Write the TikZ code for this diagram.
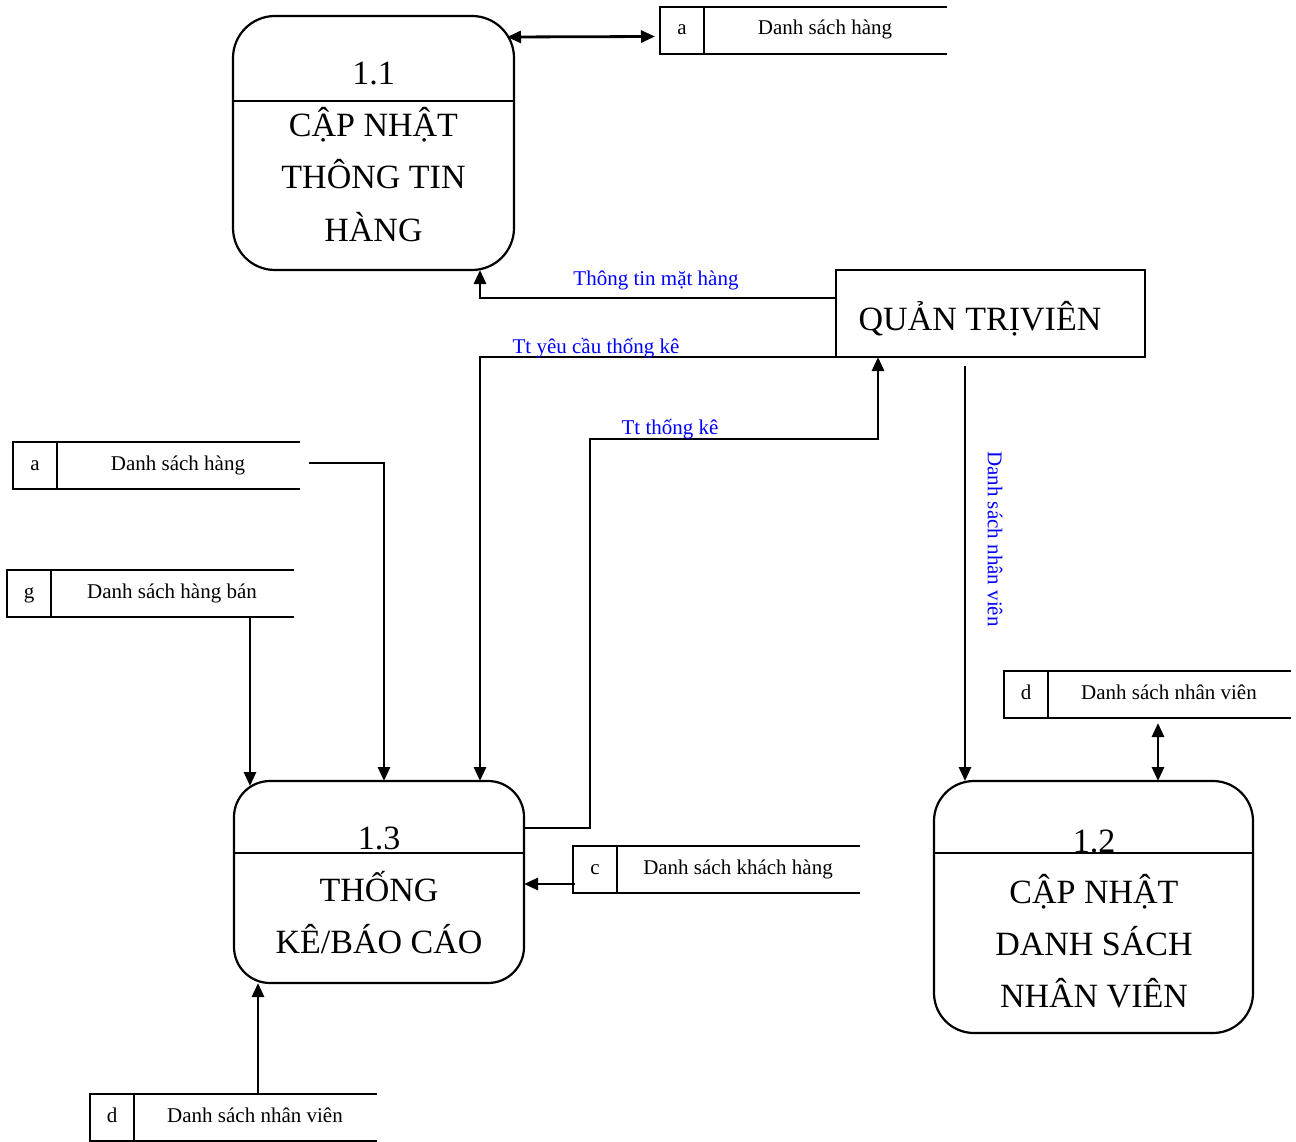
\documentclass[tikz,border=0pt]{standalone}
\usepackage{fontspec}
\setmainfont{Liberation Serif}
\usetikzlibrary{arrows.meta,calc}
\definecolor{flowblue}{RGB}{0,0,255}

\tikzset{
  proc/.style={draw, line width=2.2pt, inner sep=0pt, outer sep=0pt},
  storeframe/.style={minimum width=287pt, minimum height=47pt, inner sep=0pt, outer sep=0pt},
  storeline/.style={line width=2.2pt},
  storetext/.style={font=\fontsize{21}{24}\selectfont, anchor=base, inner sep=0pt},
  bigtext/.style={font=\fontsize{34}{40}\selectfont, anchor=base, inner sep=0pt},
  tip/.tip={Triangle[length=14pt,width=12pt]},
  flow/.style={line width=2.8pt, -tip},
  biflow/.style={line width=2.8pt, tip-tip},
  flowlabel/.style={text=flowblue, font=\fontsize{21}{24}\selectfont, anchor=base, inner sep=0pt},
}

% data store: name, left x, top y, letter, title
\newcommand{\dfdstore}[5]{%
  \node[storeframe] (#1) at (#2+143.5,#3+23.5) {};
  \draw[storeline] (#1.north east) -- (#1.north west) -- (#1.south west) -- (#1.south east);
  \draw[storeline] ([xshift=44pt]#1.north west) -- ([xshift=44pt]#1.south west);
  \node[storetext] at ([xshift=22pt,yshift=-4.5pt]#1.west) {#4};
  \node[storetext] at ([xshift=165pt,yshift=-4.5pt]#1.west) {#5};
}

\begin{document}
\begin{tikzpicture}[x=1pt,y=-1pt]
\useasboundingbox (0,0) rectangle (1296,1142);

% processes
\node[proc, rounded corners=42pt, minimum width=281pt, minimum height=254pt] (p11) at (373.5,143) {};
\draw[storeline] ([yshift=-85pt]p11.north west) -- ([yshift=-85pt]p11.north east);
\node[bigtext] at (373.5,85) {1.1};
\node[bigtext] at (373.5,137) {CẬP NHẬT};
\node[bigtext] at (373.5,189) {THÔNG TIN};
\node[bigtext] at (373.5,241) {HÀNG};

\node[proc, rounded corners=36pt, minimum width=290pt, minimum height=202pt] (p13) at (379,882) {};
\draw[storeline] ([yshift=-72pt]p13.north west) -- ([yshift=-72pt]p13.north east);
\node[bigtext] at (379,849) {1.3};
\node[bigtext] at (379,901) {THỐNG};
\node[bigtext] at (379,953) {KÊ/BÁO CÁO};

\node[proc, rounded corners=40pt, minimum width=319pt, minimum height=252pt] (p12) at (1093.5,907) {};
\draw[storeline] ([yshift=-72pt]p12.north west) -- ([yshift=-72pt]p12.north east);
\node[bigtext] at (1094,852) {1.2};
\node[bigtext] at (1094,903) {CẬP NHẬT};
\node[bigtext] at (1094,955) {DANH SÁCH};
\node[bigtext] at (1094,1007) {NHÂN VIÊN};

% external entity
\node[proc, minimum width=309pt, minimum height=87pt] (qtv) at (990.5,313.5) {};
\node[bigtext] at (980,330) {QUẢN TRỊVIÊN};

% data stores
\dfdstore{sa1}{660}{7}{a}{Danh sách hàng}
\dfdstore{sa2}{13}{442}{a}{Danh sách hàng}
\dfdstore{sg}{7}{570}{g}{Danh sách hàng bán}
\dfdstore{sc}{573}{846}{c}{Danh sách khách hàng}
\dfdstore{sd1}{90}{1094}{d}{Danh sách nhân viên}
\dfdstore{sd2}{1004}{671}{d}{Danh sách nhân viên}

% flows
\draw[biflow] ($(p11.north east)+(-7,21)$) -- ([xshift=-5pt,yshift=-6pt]sa1.west);

\draw[flow] ([yshift=15.5pt]qtv.west) -| ([xshift=106.5pt]p11.south);
\node[flowlabel] at (656,285) {Thông tin mặt hàng};

\draw[flow] (qtv.south west) -| ([xshift=101pt]p13.north);
\node[flowlabel] at (596,353) {Tt yêu cầu thống kê};

\coordinate (bend) at (590,439);
\draw[flow] ([yshift=54pt]p13.east) -| (bend) -| ([xshift=-112.5pt]qtv.south);
\node[flowlabel] at (670,434) {Tt thống kê};

\draw[flow] ([xshift=-25.5pt,yshift=-9pt]qtv.south) -- ([xshift=-128.5pt]p12.north);
\node[flowlabel, rotate=-90, anchor=center] at (995,539) {Danh sách nhân viên};

\draw[flow] ([xshift=9pt,yshift=2.5pt]sa2.east) -| ([xshift=5pt]p13.north);
\draw[flow] ([xshift=99.5pt]sg.south) coordinate (gout) -- ($(gout |- p13.north)+(0,5)$);
\draw[flow] ([xshift=2pt,yshift=-14.5pt]sc.west) coordinate (cin) -- (p13.east |- cin);
\draw[flow] ([xshift=24.5pt]sd1.north) -- ([xshift=-121pt]p13.south);
\draw[biflow] ([xshift=10.5pt,yshift=-5pt]sd2.south) -- ([xshift=64.5pt]p12.north);
\end{tikzpicture}
\end{document}
